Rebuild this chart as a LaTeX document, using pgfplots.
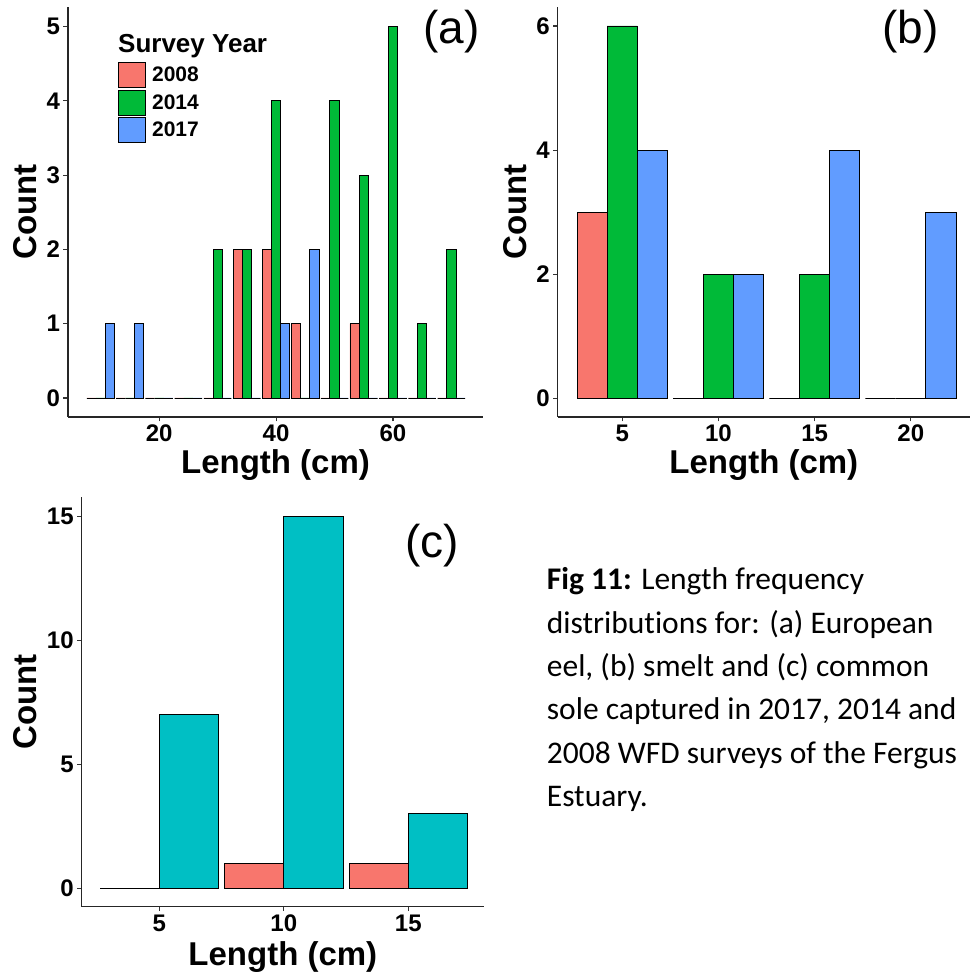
\documentclass[border=0pt]{standalone}
\usepackage{fontspec}
\setmainfont{Liberation Sans}
\newfontfamily\calibri[Ligatures=NoCommon]{Carlito}
\usepackage{pgfplots}
\pgfplotsset{compat=1.18}

\definecolor{c08}{HTML}{F8766D}
\definecolor{c14}{HTML}{00BA38}
\definecolor{c17}{HTML}{619CFF}
\definecolor{cteal}{HTML}{00BFC4}

\pgfplotsset{
  gg/.style={
    scale only axis,
    axis x line*=bottom, axis y line*=left,
    axis line style={line width=1.3pt, black!85, -},
    tick align=outside, major tick length=4.5pt,
    tick style={line width=1.1pt, black!80},
    minor tick num=0,
    every tick label/.append style={font=\fontsize{24}{24}\selectfont\bfseries, text=black},
    /pgf/number format/assume math mode=true,
    xlabel={Length (cm)}, ylabel={Count},
    label style={font=\fontsize{33}{33}\selectfont\bfseries, text=black},
    clip=false,
  },
}

\begin{document}
\begin{tikzpicture}
\useasboundingbox (0pt,0pt) rectangle (971pt,978pt);

% ---------------- (a) ----------------
\begin{axis}[gg,
  at={(68pt,561pt)}, anchor=south west,
  width=415pt, height=410pt,
  xmin=4.4, xmax=75.4, ymin=-0.256, ymax=5.265,
  xtick={20,40,60}, ytick={0,1,2,3,4,5},
  xlabel style={at={(axis description cs:0.5,-0.139)}, anchor=base},
  ylabel style={at={(axis description cs:-0.1036,0.5)}, anchor=center},
  every axis plot/.append style={ybar, bar width=1.57, bar shift=0pt, draw=black, line width=0.9pt},
  legend style={at={(axis description cs:0.1205,0.866)}, anchor=north west,
    draw=none, fill=none, inner sep=0pt, row sep=1.5pt,
    nodes={inner sep=0pt}, column sep=6pt,
    font=\fontsize{21}{21}\selectfont\bfseries},
  legend cell align=left,
  legend image code/.code={\draw[#1] (0pt,-12.5pt) rectangle (27pt,12.5pt);},
]
\addplot[fill=c08] coordinates {
 (8.43,0) (13.43,0) (18.43,0) (23.43,0) (28.43,0) (33.43,2) (38.43,2)
 (43.43,1) (48.43,0) (53.43,1) (58.43,0) (63.43,0) (68.43,0)};
\addlegendentry{2008}
\addplot[fill=c14] coordinates {
 (10,0) (15,0) (20,0) (25,0) (30,2) (35,2) (40,4)
 (45,0) (50,4) (55,3) (60,5) (65,1) (70,2)};
\addlegendentry{2014}
\addplot[fill=c17] coordinates {
 (11.57,1) (16.57,1) (21.57,0) (26.57,0) (31.57,0) (36.57,0) (41.57,1)
 (46.57,2) (51.57,0) (56.57,0) (61.57,0) (66.57,0) (71.57,0)};
\addlegendentry{2017}
\end{axis}
\node[anchor=base west, inner sep=0pt, font=\fontsize{26}{26}\selectfont\bfseries] at (118pt,925pt) {Survey Year};
\node[inner sep=0pt, font=\fontsize{46}{46}\selectfont] at (451.7pt,946pt) {(a)};

% ---------------- (b) ----------------
\begin{axis}[gg,
  at={(557.7pt,561pt)}, anchor=south west,
  width=412.3pt, height=410pt,
  xmin=1.64, xmax=23.08, ymin=-0.30, ymax=6.306,
  xtick={5,10,15,20}, ytick={0,2,4,6},
  xlabel style={at={(axis description cs:0.5,-0.139)}, anchor=base},
  ylabel style={at={(axis description cs:-0.1036,0.5)}, anchor=center},
  every axis plot/.append style={ybar, bar width=1.57, bar shift=0pt, draw=black, line width=0.9pt},
]
\addplot[fill=c08] coordinates {(3.43,3) (8.43,0) (13.43,0) (18.43,0)};
\addplot[fill=c14] coordinates {(5,6) (10,2) (15,2) (20,0)};
\addplot[fill=c17] coordinates {(6.57,4) (11.57,2) (16.57,4) (21.57,3)};
\end{axis}
\node[inner sep=0pt, font=\fontsize{46}{46}\selectfont] at (910.7pt,946pt) {(b)};

% ---------------- (c) ----------------
\begin{axis}[gg,
  at={(81.7pt,71.3pt)}, anchor=south west,
  width=402.3pt, height=410pt,
  xmin=1.88, xmax=18.04, ymin=-0.74, ymax=15.78,
  xtick={5,10,15}, ytick={0,5,10,15},
  xlabel style={at={(axis description cs:0.5,-0.1446)}, anchor=base},
  ylabel style={at={(axis description cs:-0.141,0.5)}, anchor=center},
  every axis plot/.append style={ybar, bar width=2.375, bar shift=0pt, draw=black, line width=0.9pt},
]
\addplot[fill=c08] coordinates {(3.81,0) (8.81,1) (13.81,1)};
\addplot[fill=cteal] coordinates {(6.19,7) (11.19,15) (16.19,3)};
\end{axis}
\node[inner sep=0pt, font=\fontsize{46}{46}\selectfont] at (432pt,432.2pt) {(c)};

% ---------------- caption ----------------
\begin{scope}[every node/.style={anchor=base west, inner sep=0pt, font=\calibri\fontsize{31.5}{31.5}\selectfont}]
\node at (546.7pt,388pt) {\textbf{Fig 11:} Length frequency};
\node at (546.7pt,344.7pt) {distributions for: (a) European};
\node at (546.7pt,301.3pt) {eel, (b) smelt and (c) common};
\node at (546.7pt,258pt) {sole captured in 2017, 2014 and};
\node at (546.7pt,214.7pt) {2008 WFD surveys of the Fergus};
\node at (546.7pt,171.3pt) {Estuary.};
\end{scope}
\end{tikzpicture}
\end{document}
